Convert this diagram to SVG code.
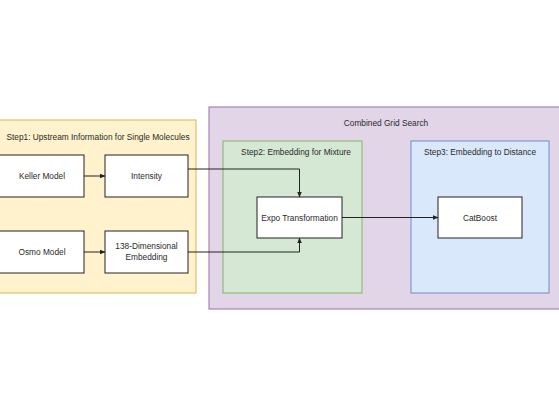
<svg xmlns="http://www.w3.org/2000/svg" width="559" height="419" viewBox="0 0 559 419">
<style>
text{font-family:"Liberation Sans",Arial,sans-serif;font-size:8.3px;fill:#2a2a2a;text-anchor:middle;dominant-baseline:central}
.node{fill:#fff;stroke:#222;stroke-width:1}
.conn{fill:none;stroke:#222;stroke-width:1}
</style>
<defs>
<marker id="arr" viewBox="0 0 10 10" refX="9" refY="5" markerWidth="6" markerHeight="6" orient="auto" markerUnits="userSpaceOnUse">
<path d="M0,1 L10,5 L0,9 Z" fill="#222"/>
</marker>
</defs>
<rect width="559" height="419" fill="#fff"/>
<g id="step1">
<rect x="-1" y="120" width="197" height="173" fill="#fff2cc" stroke="#d6b656"/>
<text x="98" y="137">Step1: Upstream Information for Single Molecules</text>
</g>
<g id="combined">
<rect x="209" y="107" width="352" height="202" fill="#e1d5e7" stroke="#9673a6"/>
<text x="386" y="123">Combined Grid Search</text>
</g>
<g id="step2">
<rect x="223" y="141" width="139" height="152" fill="#d5e8d4" stroke="#82b366"/>
<text x="296" y="152">Step2: Embedding for Mixture</text>
</g>
<g id="step3">
<rect x="411" y="141" width="138" height="152" fill="#dae8fc" stroke="#6c8ebf"/>
<text x="480" y="152">Step3: Embedding to Distance</text>
</g>
<g id="keller">
<rect class="node" x="-1" y="155" width="85" height="42"/>
<text x="42" y="176">Keller Model</text>
</g>
<g id="intensity">
<rect class="node" x="105" y="155" width="83" height="42"/>
<text x="146.5" y="176">Intensity</text>
</g>
<g id="osmo">
<rect class="node" x="-1" y="231" width="85" height="42"/>
<text x="42" y="252">Osmo Model</text>
</g>
<g id="embedding">
<rect class="node" x="105" y="231" width="83" height="42"/>
<text x="146.5" y="246">138-Dimensional</text>
<text x="146.5" y="257">Embedding</text>
</g>
<g id="expo">
<rect class="node" x="257" y="197" width="85" height="41"/>
<text x="299.5" y="217.5">Expo Transformation</text>
</g>
<g id="catboost">
<rect class="node" x="438" y="197" width="84" height="41"/>
<text x="480" y="217.5">CatBoost</text>
</g>
<g id="connectors">
<path class="conn" d="M84,176 L105,176" marker-end="url(#arr)"/>
<path class="conn" d="M84,252 L105,252" marker-end="url(#arr)"/>
<path class="conn" d="M188,169 L299.5,169 L299.5,197" marker-end="url(#arr)"/>
<path class="conn" d="M188,252 L299.5,252 L299.5,238" marker-end="url(#arr)"/>
<path class="conn" d="M342,217.5 L438,217.5" marker-end="url(#arr)"/>
</g>
</svg>
